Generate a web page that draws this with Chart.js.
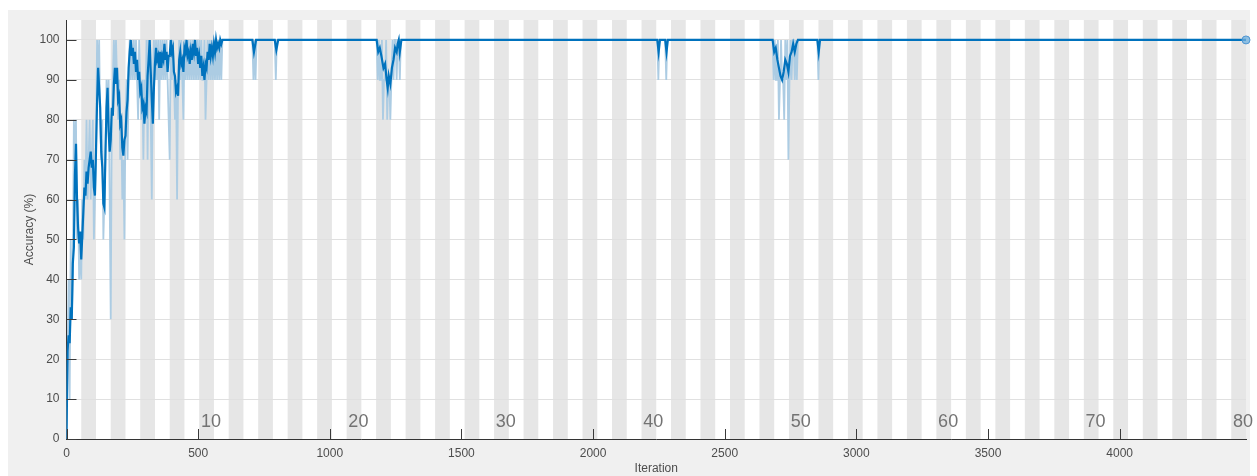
<!DOCTYPE html>
<html>
<head>
<meta charset="utf-8">
<title>Training accuracy</title>
<script src="https://cdn.jsdelivr.net/npm/chart.js@4.4.1/dist/chart.umd.min.js"></script>
<style>
  html, body { margin: 0; padding: 0; background: #fff; }
  #wrap { width: 1257px; height: 476px; }
</style>
</head>
<body>
<div id="wrap"><canvas id="myChart"></canvas></div>
<script>
const itersPerEpoch = 56;
const numEpochs = 80;
const maxIteration = 4480;
const epochLabels = [10, 20, 30, 40, 50, 60, 70, 80];
const xTicks = [0, 500, 1000, 1500, 2000, 2500, 3000, 3500, 4000];
const yTicks = [0, 10, 20, 30, 40, 50, 60, 70, 80, 90, 100];

// mini-batch accuracy, one value every 4 iterations (0 .. 596)
const rawStep = 4;
const rawEarly = [
  0, 20, 40, 10, 50, 30, 40, 80, 70, 80,
  50, 60, 40, 50, 40, 60, 50, 70, 60, 80,
  60, 70, 80, 60, 70, 80, 50, 60, 70, 100,
  90, 100, 80, 70, 80, 50, 60, 70, 90, 80,
  90, 60, 30, 80, 90, 100, 90, 100, 90, 80,
  90, 70, 80, 60, 70, 50, 80, 90, 70, 90,
  100, 90, 100, 90, 100, 90, 100, 90, 80, 100,
  90, 80, 90, 70, 90, 80, 100, 70, 100, 90,
  80, 60, 90, 100, 90, 100, 90, 100, 80, 100,
  90, 100, 90, 100, 90, 100, 90, 80, 70, 100,
  90, 100, 90, 80, 90, 60, 90, 100, 90, 100,
  90, 80, 100, 90, 100, 90, 100, 90, 100, 90,
  100, 90, 100, 90, 100, 90, 100, 90, 100, 90,
  90, 100, 80, 90, 100, 90, 100, 90, 100, 90,
  100, 90, 100, 90, 100, 90, 100, 90, 100, 100
];
// after ~600 iterations it stays at 100 apart from a few dips
const rawLateIter = [
  600, 706, 710, 714, 718, 722, 791, 795, 799,
  1178, 1182, 1186, 1190, 1194, 1198, 1202, 1206, 1210, 1214, 1218, 1222,
  1226, 1230, 1234, 1238, 1242, 1246, 1250, 1254, 1258, 1262, 1266, 1270,
  2244, 2248, 2252, 2274, 2278, 2282,
  2682, 2686, 2690, 2694, 2698, 2702, 2706, 2710, 2714, 2718, 2722, 2726,
  2730, 2734, 2738, 2742, 2746, 2750, 2754, 2758, 2762, 2766, 2770, 2774, 2778,
  2852, 2856, 2860, 4480
];
const rawLateAcc = [
  100, 100, 90, 100, 90, 100, 100, 90, 100,
  100, 90, 100, 90, 90, 100, 80, 90, 90, 100, 80, 90,
  90, 80, 90, 100, 90, 100, 100, 90, 100, 100, 90, 100,
  100, 90, 100, 100, 90, 100,
  100, 90, 100, 90, 90, 100, 80, 90, 100, 90, 90, 80,
  100, 90, 100, 70, 90, 100, 90, 100, 100, 90, 100, 90, 100,
  100, 90, 100, 100
];

// smoothed accuracy, same 4-iteration spacing (0 .. 596)
const smoothEarly = [
  0, 22, 26, 24, 33, 30, 44, 48, 66, 74,
  60, 53, 49, 52, 45, 51, 57, 63, 61, 67,
  64, 68, 70, 72, 68, 70, 63, 61, 72, 84,
  93, 88, 83, 72, 68, 59, 58, 72, 83, 88,
  77, 72, 75, 83, 81, 89, 93, 89, 93, 85,
  86, 79, 80, 73, 71, 75, 76, 82, 85, 93,
  97, 100, 96, 98, 94, 97, 92, 95, 90, 92,
  87, 88, 83, 84, 79, 83, 82, 91, 95, 100,
  92, 85, 79, 88, 94, 98, 95, 96, 93, 97,
  93, 96, 95, 99, 95, 97, 92, 96, 96, 100,
  97, 98, 92, 91, 87, 88, 86, 95, 97, 94,
  95, 92, 98, 97, 100, 96, 97, 94, 97, 95,
  99, 97, 100, 96, 98, 94, 96, 93, 96, 91,
  93, 90, 94, 93, 97, 95, 99, 96, 98, 96,
  99, 97, 100, 98, 99, 98, 100, 99, 100, 100
];
const smoothLateIter = [
  600, 706, 712, 720, 791, 797, 804,
  1178, 1184, 1190, 1196, 1204, 1210, 1216, 1220, 1224, 1230, 1236, 1242,
  1248, 1254, 1258, 1262, 1266, 1272,
  2244, 2249, 2254, 2274, 2279, 2284,
  2682, 2688, 2694, 2700, 2706, 2712, 2718, 2724, 2730, 2736, 2742, 2748,
  2754, 2760, 2766, 2772, 2778,
  2852, 2857, 2862, 4480
];
const smoothLateAcc = [
  100, 100, 97, 100, 100, 97.5, 100,
  100, 97, 98, 96, 93, 94, 90, 88, 91, 89, 93, 95,
  98, 97, 99, 100, 97, 100,
  100, 97, 100, 100, 97, 100,
  100, 97, 98, 95, 93, 91, 90, 92, 95, 94, 92, 96,
  97, 99, 97, 99, 100,
  100, 97, 100, 100
];

const finalValIter = [4480];
const finalValAcc = [100];

const fontFamily = "'Liberation Sans', Arial, sans-serif";
Chart.defaults.font.family = fontFamily;

const rawData = rawEarly
  .map((v, i) => ({ x: i * rawStep, y: v }))
  .concat(rawLateIter.map((it, i) => ({ x: it, y: rawLateAcc[i] })));
const smoothData = smoothEarly
  .map((v, i) => ({ x: i * rawStep, y: v }))
  .concat(smoothLateIter.map((it, i) => ({ x: it, y: smoothLateAcc[i] })));
const valData = finalValIter.map((it, i) => ({ x: it, y: finalValAcc[i] }));

// figure background, plot area and alternating epoch bands, plus inward ticks
const trainingFrame = {
  id: "trainingFrame",
  beforeDraw: (chart) => {
    const { ctx, chartArea, scales } = chart;
    const { left, right, top, bottom } = chartArea;
    ctx.save();
    ctx.fillStyle = "#ffffff";
    ctx.fillRect(0, 0, chart.width, chart.height);
    ctx.fillStyle = "#f0f0f0";
    ctx.fillRect(8, 10, chart.width - 15, chart.height - 10);
    ctx.fillStyle = "#ffffff";
    ctx.fillRect(left, top, right - left, bottom - top);
    ctx.fillStyle = "#e6e6e6";
    for (let e = 2; e <= numEpochs; e += 2) {
      const x0 = scales.x.getPixelForValue((e - 1) * itersPerEpoch);
      const x1 = scales.x.getPixelForValue(e * itersPerEpoch);
      ctx.fillRect(x0, top, x1 - x0, bottom - top);
    }
    ctx.restore();
  },
  afterDraw: (chart) => {
    const { ctx, chartArea, scales } = chart;
    const { left, bottom } = chartArea;
    ctx.save();
    ctx.strokeStyle = "#3a3a3a";
    ctx.lineWidth = 1;
    ctx.beginPath();
    xTicks.forEach((v) => {
      const x = Math.round(scales.x.getPixelForValue(v)) + 0.5;
      ctx.moveTo(x, bottom);
      ctx.lineTo(x, bottom - 10);
    });
    yTicks.forEach((v) => {
      const y = Math.round(scales.y.getPixelForValue(v)) + 0.5;
      ctx.moveTo(left, y);
      ctx.lineTo(left + 10, y);
    });
    ctx.stroke();

    // epoch numbers along the bottom
    ctx.fillStyle = "#737373";
    ctx.font = "18px " + fontFamily;
    ctx.textAlign = "center";
    ctx.textBaseline = "middle";
    epochLabels.forEach((e) => {
      const x = scales.x.getPixelForValue(e * itersPerEpoch) - 3;
      ctx.fillText(String(e), x, 422);
    });
    ctx.restore();
  },
};

const ctx = document.getElementById("myChart");

new Chart(ctx, {
  type: "line",
  data: {
    datasets: [
      {
        label: "Validation",
        data: valData,
        showLine: false,
        pointRadius: 4,
        pointBackgroundColor: "rgba(110,175,222,0.75)",
        pointBorderColor: "rgb(80,150,210)",
        pointBorderWidth: 1,
        clip: false,
      },
      {
        label: "Smoothed",
        data: smoothData,
        borderColor: "rgb(0,114,189)",
        borderWidth: 2.2,
        pointRadius: 0,
        fill: false,
        tension: 0,
      },
      {
        label: "Training",
        data: rawData,
        borderColor: "rgb(172,204,227)",
        borderWidth: 1.8,
        pointRadius: 0,
        fill: false,
        tension: 0,
      },
    ],
  },
  options: {
    responsive: true,
    maintainAspectRatio: false,
    animation: false,
    layout: { padding: { left: 0, right: 11, top: 20, bottom: 0 } },
    plugins: {
      legend: { display: false },
      tooltip: { enabled: false },
    },
    scales: {
      x: {
        type: "linear",
        min: 0,
        max: maxIteration,
        afterBuildTicks: (s) => {
          s.ticks = xTicks.map((v) => ({ value: v }));
        },
        afterFit: (s) => {
          s.height = 37;
        },
        grid: { display: false, drawTicks: false },
        border: { display: true, color: "#333333", width: 1 },
        ticks: {
          padding: 7,
          color: "#4d4d4d",
          maxRotation: 0,
          font: { size: 12 },
          callback: (v) => String(v),
        },
        title: {
          display: true,
          text: "Iteration",
          color: "#4d4d4d",
          font: { size: 12 },
          padding: { top: 0, bottom: 0 },
        },
      },
      y: {
        type: "linear",
        min: 0,
        max: 105,
        afterBuildTicks: (s) => {
          s.ticks = yTicks.map((v) => ({ value: v }));
        },
        afterFit: (s) => {
          s.width = 66.5;
        },
        grid: { color: "#e0e0e0", drawTicks: false },
        border: { display: true, color: "#333333", width: 1 },
        ticks: {
          padding: 7,
          color: "#4d4d4d",
          font: { size: 12 },
        },
        title: {
          display: true,
          text: "Accuracy (%)",
          color: "#4d4d4d",
          font: { size: 12 },
          padding: { top: 22, bottom: 0 },
        },
      },
    },
  },
  plugins: [trainingFrame],
});
</script>
</body>
</html>
